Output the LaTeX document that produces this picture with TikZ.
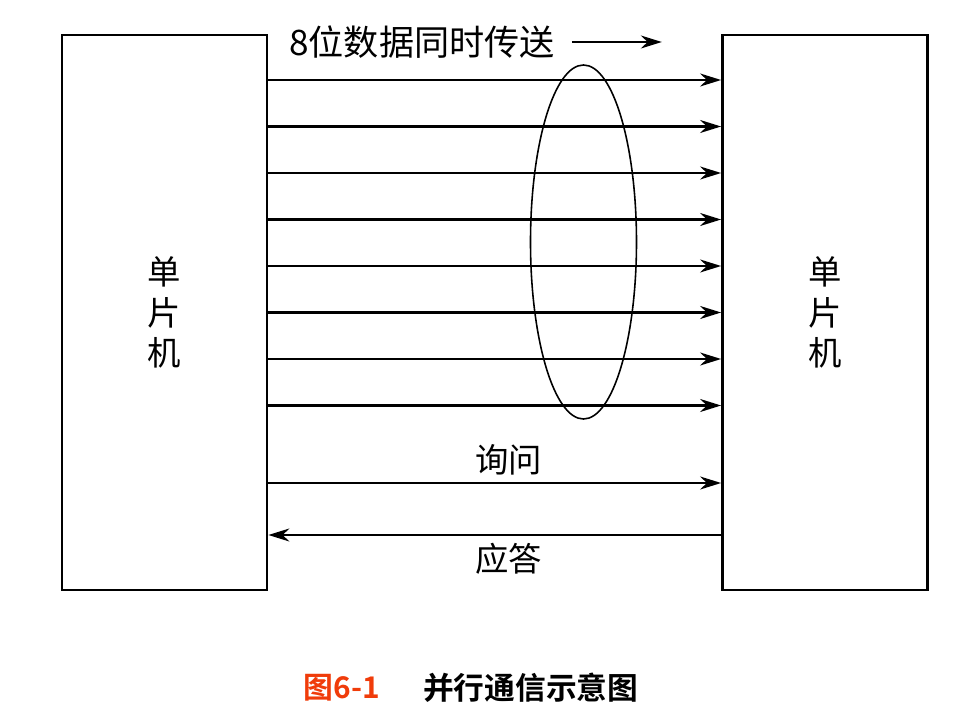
\documentclass[tikz,border=0pt]{standalone}
\usepackage{fontspec}
\setmainfont{Noto Sans CJK SC}
\newfontfamily\capfont{Noto Sans CJK SC Bold}
\usetikzlibrary{positioning,arrows.meta}
\definecolor{capred}{HTML}{F03C0A}

\begin{document}
\begin{tikzpicture}[x=0.02cm, y=-0.02cm,
  mcu/.style={draw, line width=1.6pt, minimum width=4.1cm, minimum height=11.1cm,
              inner sep=0pt, align=center, font=\fontsize{19}{23}\selectfont},
  dat/.style={-{Stealth[length=4.2mm, width=2.6mm]}, line width=1.2pt},
  lab/.style={font=\fontsize{19}{22}\selectfont, inner sep=1pt}]
\useasboundingbox (0,0) rectangle (975,706);
\node[mcu] (lft) at (164.5,312.5) {单\\片\\机};
\node[mcu] (rgt) at (825,312.5) {单\\片\\机};
% eight data lines
\foreach \y in {80,126.5,173,219.5,266,312.5,359,405.5}
  \draw[dat] (lft.east |- 0,\y) -- (rgt.west |- 0,\y);
\draw[line width=0.9pt] (583.5,242) ellipse [x radius=53, y radius=177];
\node[lab, font=\fontsize{20}{23}\selectfont] (ttl) at (422,42) {8位数据同时传送};
\coordinate[right=2.1cm of ttl.east] (ttle);
\draw[dat] ([xshift=3mm]ttl.east) -- (ttle);
% handshake
\draw[dat] (lft.east |- 0,483) -- node[lab, above=3pt, xshift=2.8mm] (ask) {询问} (rgt.west |- 0,483);
\draw[dat] (rgt.west |- 0,535) -- node[lab, below=3pt, xshift=2.8mm] (ack) {应答} (lft.east |- 0,535);
\node[font=\capfont\fontsize{17}{20}\selectfont, text=capred] (fig) at (342,688) {图6-1};
\node[font=\capfont\fontsize{17.5}{20}\selectfont, anchor=west] (cap) at (417,688) {并行通信示意图};
\end{tikzpicture}
\end{document}
